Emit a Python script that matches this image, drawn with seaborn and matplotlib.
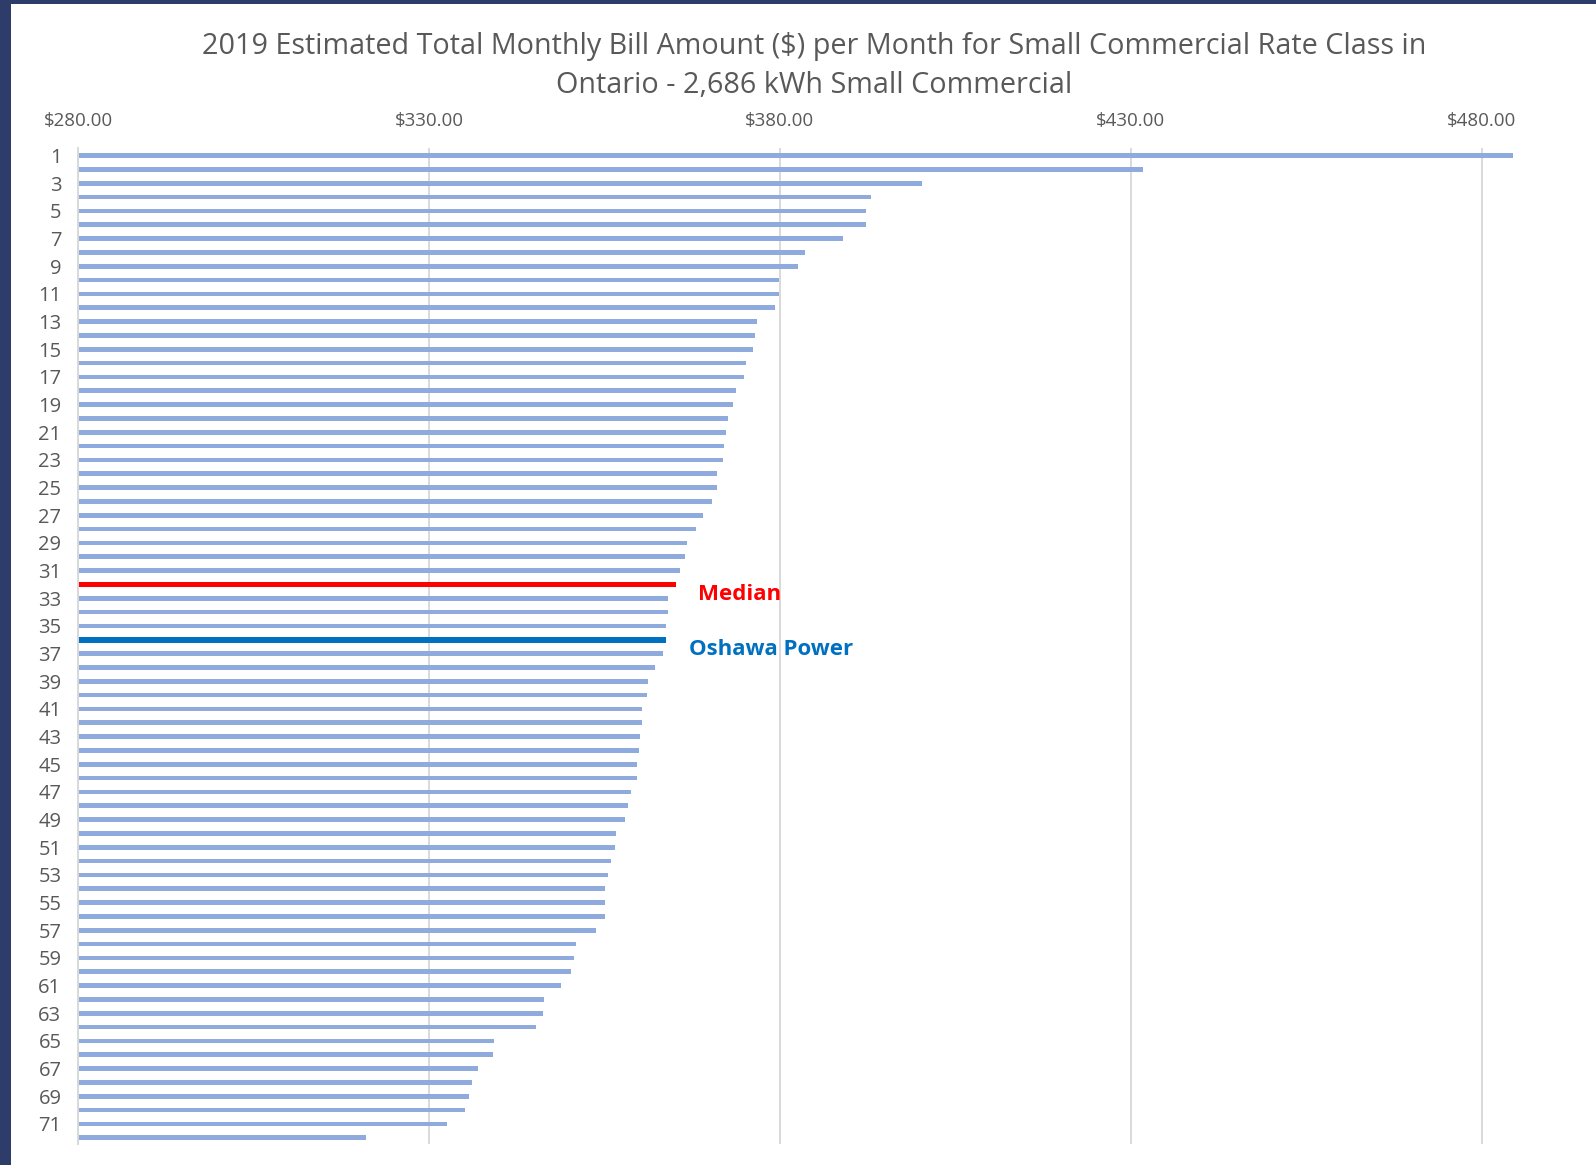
"""
2019 Estimated Total Monthly Bill, Small Commercial rate class, Ontario
"""

import matplotlib
matplotlib.use('Agg')
import matplotlib.pyplot as plt
import seaborn as sns
import pandas as pd
from matplotlib.patches import Rectangle

# Данные: ранг дистрибьютора и сумма счёта ($ в месяц)
ranks = [str(i) for i in range(1, 73)]
bills = [
    484.5, 431.7, 400.3, 393.0, 392.3, 392.2, 389.0, 383.6, 382.6, 379.9,
    379.9, 379.3, 376.8, 376.5, 376.2, 375.1, 374.9, 373.8, 373.3, 372.6,
    372.3, 372.0, 371.9, 371.0, 371.0, 370.3, 369.0, 368.1, 366.8, 366.5,
    365.7, 365.2, 364.1, 364.1, 363.8, 363.8, 363.3, 362.2, 361.2, 361.0,
    360.4, 360.3, 360.1, 359.9, 359.7, 359.6, 358.8, 358.4, 358.0, 356.7,
    356.5, 355.9, 355.5, 355.1, 355.1, 355.1, 353.8, 351.0, 350.7, 350.3,
    348.8, 346.4, 346.2, 345.2, 339.3, 339.1, 337.0, 336.2, 335.7, 335.2,
    332.6, 321.0,
]
x_ticks = [280, 330, 380, 430, 480]
highlights = {'32': ('Median', '#FF0000'), '36': ('Oshawa Power', '#0070C0')}

df = pd.DataFrame({'rank': ranks, 'bill': bills})

sns.set_theme(style='white')
plt.rcParams['font.family'] = ['Open Sans', 'DejaVu Sans']

fig = plt.figure(figsize=(15.96, 11.65), dpi=100, facecolor='#2E3C69')
# белая "карточка" поверх тёмной рамки слайда
fig.patches.append(Rectangle((11 / 1596, 0), 1, 1 - 4 / 1165, transform=fig.transFigure,
                             facecolor='white', edgecolor='none', zorder=-5))
ax = fig.add_axes([0.0489, 0.018, 0.9235, 0.855])
ax.set_facecolor('white')

sns.barplot(data=df, x='bill', y='rank', orient='h', order=ranks,
            color='#8FAADC', saturation=1, width=0.34, linewidth=0, ax=ax, zorder=2)

# выделенные строки: медиана и Oshawa Power
for patch, r in zip(ax.patches, ranks):
    if r in highlights:
        label, col = highlights[r]
        yc = patch.get_y() + patch.get_height() / 2
        patch.set_height(0.4)
        patch.set_y(yc - 0.2)
        patch.set_facecolor(col)
        val = df.loc[df['rank'] == r, 'bill'].iloc[0]
        ax.text(val + 3.2, yc + 0.7, label, color=col, fontsize=16,
                fontweight='bold', va='center', ha='left')

ax.set_xlim(280, 490)
ax.set_ylim(71.45, -0.55)
ax.set_xticks(x_ticks)
ax.set_xticklabels([f'${v:.2f}' for v in x_ticks])
ax.set_yticks(range(0, 72, 2))
ax.set_yticklabels(ranks[::2])
ax.xaxis.tick_top()
ax.tick_params(axis='x', length=0, pad=13, labelsize=13.5, labelcolor='#595959')
ax.tick_params(axis='y', length=0, pad=12, labelsize=14.5, labelcolor='#595959')
ax.set_xlabel('')
ax.set_ylabel('')
ax.grid(axis='x', color='#D9D9D9', linewidth=1.4, zorder=0)
ax.set_axisbelow(True)
for side in ['top', 'right', 'bottom']:
    ax.spines[side].set_visible(False)
ax.spines['left'].set_color('#D9D9D9')
ax.spines['left'].set_linewidth(1.4)

fig.text(0.51, 0.9605, '2019 Estimated Total Monthly Bill Amount ($) per Month for Small Commercial Rate Class in',
         ha='center', va='center', fontsize=20.7, color='#595959')
fig.text(0.51, 0.9265, 'Ontario - 2,686 kWh Small Commercial',
         ha='center', va='center', fontsize=20.7, color='#595959')

plt.savefig('out.png', dpi=100, facecolor=fig.get_facecolor())
